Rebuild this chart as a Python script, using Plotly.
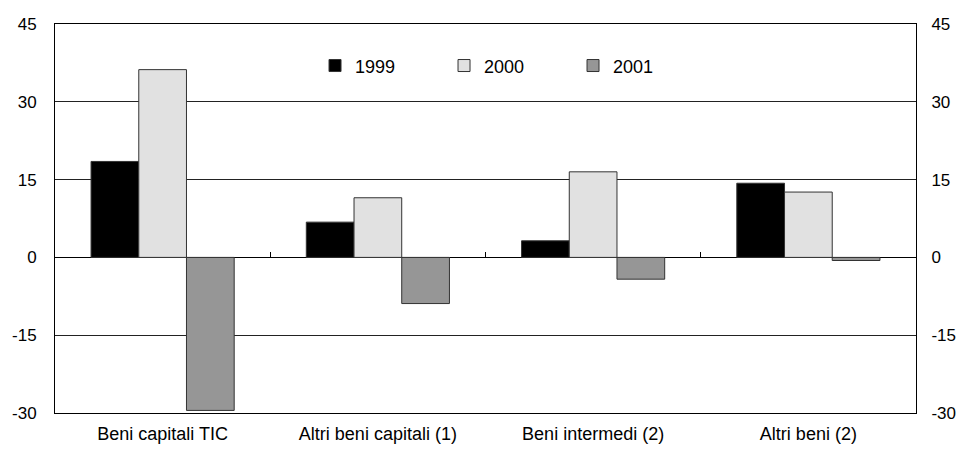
import plotly.graph_objects as go

categories = ["Beni capitali TIC", "Altri beni capitali (1)", "Beni intermedi (2)", "Altri beni (2)"]
series_names = ["1999", "2000", "2001"]
v1999 = [18.5, 6.8, 3.2, 14.3]
v2000 = [36.2, 11.5, 16.5, 12.6]
v2001 = [-29.5, -8.9, -4.2, -0.6]
tick_vals = [-30, -15, 0, 15, 30, 45]
tick_text = ["-30", "-15", "0", "15", "30", "45"]

colors = ["#000000", "#e1e1e1", "#969696"]
FONT = "Liberation Sans, Arial, sans-serif"

fig = go.Figure()
for name, vals, c in zip(series_names, [v1999, v2000, v2001], colors):
    fig.add_trace(go.Bar(x=categories, y=vals, name=name, marker_color=c,
                         marker_line_color="#333333", marker_line_width=1))

# helper traces for the secondary axes
fig.add_trace(go.Scatter(x=categories, y=[0]*4, xaxis="x", yaxis="y2", mode="none",
                         showlegend=False, hoverinfo="skip"))
fig.add_trace(go.Scatter(x=categories, y=[0]*4, xaxis="x2", yaxis="y", mode="none",
                         showlegend=False, hoverinfo="skip"))

yax = dict(range=[-30, 45], tickvals=tick_vals, ticktext=tick_text, showgrid=True,
           gridcolor="#222222", gridwidth=1, zeroline=True, zerolinecolor="#000000",
           zerolinewidth=1, showline=True, linecolor="#000000", linewidth=1, ticks="",
           automargin=False, tickfont=dict(family=FONT, size=17, color="#000000"))

fig.update_layout(
    width=957, height=450,
    margin=dict(l=55, r=41, t=24, b=37),
    paper_bgcolor="white", plot_bgcolor="white",
    barmode="group", bargap=0.335, bargroupgap=0,
    font=dict(family=FONT, size=17, color="#000000"),
    xaxis=dict(showline=True, linecolor="#000000", linewidth=1, mirror=True,
               ticks="", automargin=False, ticklabelstandoff=4,
               tickfont=dict(family=FONT, size=18, color="#000000")),
    xaxis2=dict(overlaying="x", matches="x", anchor="free", position=0.4, side="bottom",
                showline=False, showticklabels=False, ticks="inside", tickson="boundaries",
                ticklen=5, tickcolor="#000000", tickwidth=1, showgrid=False,
                automargin=False),
    yaxis=dict(**yax, ticklabelstandoff=14),
    yaxis2=dict(**{**yax, "showgrid": False}, overlaying="y", side="right",
                ticklabelstandoff=11),
    legend=dict(orientation="h", x=0.302, y=0.8925, xanchor="left", yanchor="middle",
                entrywidth=84, entrywidthmode="pixels", bgcolor="rgba(0,0,0,0)",
                font=dict(family=FONT, size=18), traceorder="normal"),
    showlegend=True,
)

fig.write_html("out.html", config={"displayModeBar": False},
               post_script="document.body.style.margin='0';document.body.style.padding='0';")
